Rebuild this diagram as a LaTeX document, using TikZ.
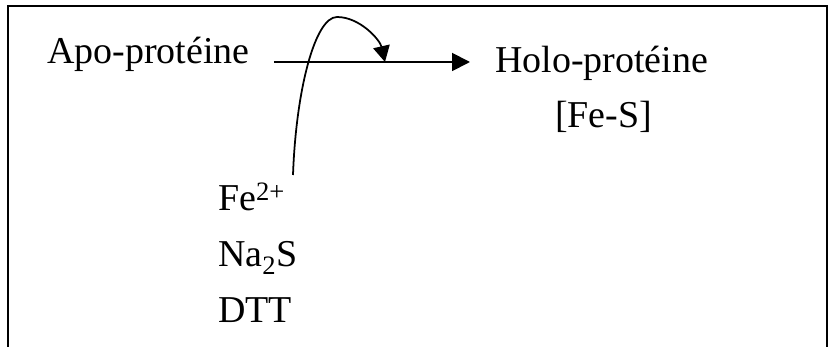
\documentclass[tikz,border=0pt]{standalone}
\usepackage{fontspec}
\setmainfont{Liberation Serif}
\usepackage{tikz}
\usetikzlibrary{arrows.meta,positioning,calc}

\begin{document}
\begin{tikzpicture}[
  x=0.03cm, y=-0.03cm,
  chem/.style={inner sep=0pt, anchor=base west, font=\fontsize{32.4pt}{38pt}\selectfont},
  arrow/.style={-{Triangle[length=0.54cm, width=0.54cm]}, line width=1.6pt},
  curl/.style={-{Triangle[length=0.48cm, width=0.5cm]}, line width=1.5pt}
]
  \useasboundingbox (0,0) rectangle (830,347);

  % Frame, open at the bottom
  \draw[line width=1.6pt] (8,347) -- (8,6) -- (827,6) -- (827,347);

  % Reaction
  \node[chem] (apo) at (47,64) {Apo-protéine};
  \node[chem] (holo) at (495,73) {Holo-protéine};
  \node[chem] (fes) at ($(holo.base west)+(60,55)$) {[Fe-S]};

  % Reagents
  \node[chem] (fe) at (218,211) {Fe\textsuperscript{2+}};
  \node[chem] (nas) at ($(fe.base west)+(0,56)$) {Na\textsubscript{2}S};
  \node[chem] (dtt) at ($(nas.base west)+(0,56)$) {DTT};

  % Arrows
  \draw[arrow] ([shift={(24,-2)}]apo.base east) -- ([shift={(-25,-11)}]holo.base west);
  \coordinate (src) at (293,175);
  \coordinate (hit) at (385,62);
  \draw[curl] (src) .. controls (296,90) and (315,17) .. (337,17)
              .. controls (360,17) and (380,40) .. (hit);
\end{tikzpicture}
\end{document}
